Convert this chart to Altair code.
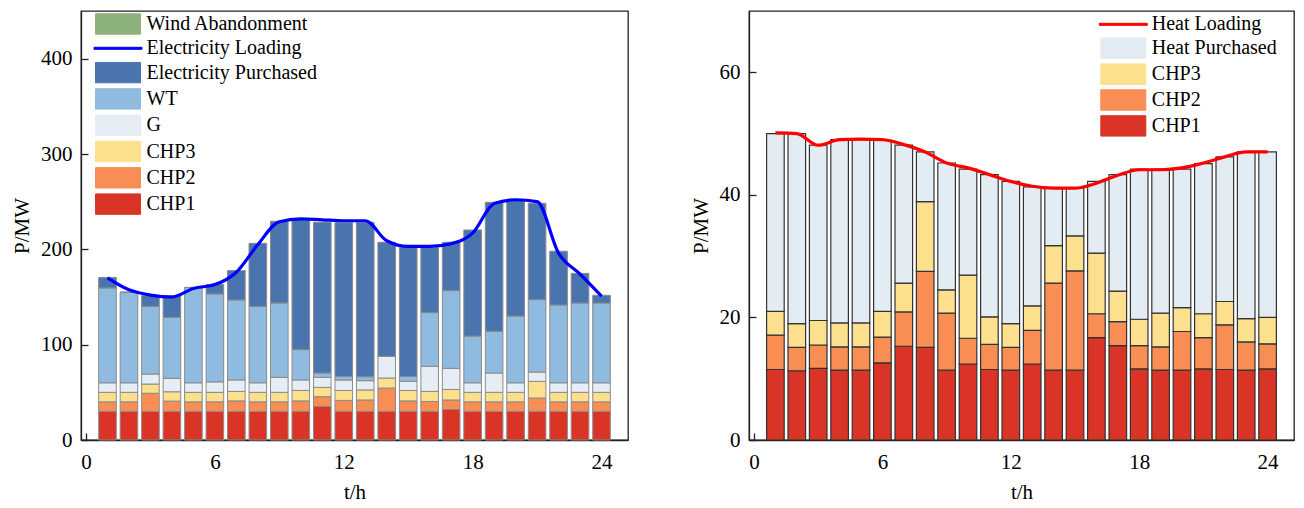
import altair as alt
import pandas as pd

hours = list(range(1, 25))

# ---------- Electricity balance (left) ----------
e_chp1 = [30, 30, 30, 30, 30, 30, 30, 30, 30, 30, 35.3, 30, 30, 30, 30, 30, 32, 30, 30, 30, 30, 30, 30, 30]
e_chp2 = [10, 10, 19, 10.8, 10, 10, 11, 10, 10, 11, 10.1, 11.5, 12, 24.5, 11, 10.4, 10, 10, 10, 10, 14, 10, 10, 10]
e_chp3 = [10, 10, 9.7, 9.8, 10, 10, 10, 10, 10, 11, 9.8, 10.5, 10.5, 10.5, 11, 10.6, 11, 10, 10, 10, 17.5, 10, 10, 10]
e_g = [10, 10, 10.5, 14.1, 10, 11, 12, 10, 15.7, 11, 10.5, 11, 9.7, 22.8, 9.6, 26.3, 22.2, 10, 20.3, 10, 9.8, 10, 10, 10]
e_wt = [99.5, 95, 71, 64, 100, 92.2, 83.9, 80.2, 78, 31.8, 4.6, 3.6, 4.2, 0, 5.2, 56.3, 81.5, 49, 43.7, 70, 75.9, 81.6, 83.7, 83.7]
e_buy = [11, 0, 11.2, 22.7, 0, 9.8, 30.8, 66.1, 85.7, 136.2, 158.1, 161.4, 161.9, 119.6, 135.2, 68.4, 50.7, 111.3, 135.3, 121.8, 101.1, 56.4, 31.1, 8.1]
e_load = [170, 157.5, 152, 150, 159, 163, 176, 205, 229, 232, 231, 230, 230, 209, 203, 203, 206, 217, 248, 252, 250, 196, 174, 151]

e_domain = ["Wind Abandonment", "Electricity Loading", "Electricity Purchased", "WT", "G", "CHP3", "CHP2", "CHP1"]
e_colors = ["#8db17b", "#0000ff", "#4a74ae", "#8fbbe0", "#e6edf4", "#fde08d", "#f98e55", "#d93425"]

# ---------- Heat balance (right) ----------
h_chp1 = [11.5, 11.3, 11.7, 11.4, 11.4, 12.6, 15.3, 15.1, 11.4, 12.4, 11.5, 11.4, 12.4, 11.4, 11.4, 16.7, 15.4, 11.6, 11.4, 11.4, 11.6, 11.5, 11.4, 11.6]
h_chp2 = [5.6, 3.8, 3.8, 3.8, 3.8, 4.2, 5.6, 12.4, 9.3, 4.2, 4.1, 3.7, 5.5, 14.2, 16.2, 3.9, 3.9, 3.8, 3.8, 6.3, 5.1, 7.3, 4.6, 4.1]
h_chp3 = [3.9, 3.9, 4.0, 3.9, 3.9, 4.2, 4.7, 11.4, 3.8, 10.3, 4.5, 3.9, 4.0, 6.1, 5.7, 9.9, 5.0, 4.3, 5.5, 3.9, 3.9, 3.8, 3.8, 4.3]
h_buy = [29.0, 31.0, 28.6, 29.9, 29.9, 27.9, 22.5, 8.1, 20.7, 17.3, 23.2, 23.2, 19.4, 9.4, 7.8, 11.7, 19.0, 24.5, 23.5, 22.6, 24.5, 23.6, 27.2, 27.0]
h_load = [50.1, 50.0, 48.1, 49.0, 49.1, 49.0, 48.2, 47.0, 45.2, 44.4, 43.3, 42.2, 41.4, 41.1, 41.1, 41.9, 43.2, 44.1, 44.1, 44.4, 45.2, 46.2, 47.0, 47.0]

h_domain = ["Heat Loading", "Heat Purchased", "CHP3", "CHP2", "CHP1"]
h_colors = ["#ff0000", "#e4ecf3", "#fde08d", "#f98e55", "#d93425"]

FONT = "Liberation Serif"


def long_frame(parts):
    rows = []
    for order, (name, vals) in enumerate(parts):
        for t, v in zip(hours, vals):
            rows.append({"t": t, "series": name, "value": v, "ord": order})
    return pd.DataFrame(rows)


e_bars = long_frame([("CHP1", e_chp1), ("CHP2", e_chp2), ("CHP3", e_chp3), ("G", e_g),
                     ("WT", e_wt), ("Electricity Purchased", e_buy)])
e_line = pd.DataFrame({"t": hours, "value": e_load, "series": "Electricity Loading"})

h_bars = long_frame([("CHP1", h_chp1), ("CHP2", h_chp2), ("CHP3", h_chp3), ("Heat Purchased", h_buy)])
h_line = pd.DataFrame({"t": hours, "value": h_load, "series": "Heat Loading"})

# legend symbols: size 400 -> unit = 10 px
RECT = "M-2.25,-1.02H2.25V1.02H-2.25Z"
LINE = "M-2.4,-0.1H2.4V0.1H-2.4Z"


def legend(line_name, line_color, lx, ly, row_pad, edge):
    test = f"datum.value === '{line_name}'"
    return alt.Legend(
        title=None,
        orient="none",
        legendX=lx,
        legendY=ly,
        padding=0,
        symbolSize=400,
        symbolStrokeWidth=1,
        symbolOpacity=1,
        symbolType=alt.ExprRef(expr=f"{test} ? '{LINE}' : '{RECT}'"),
        symbolStrokeColor=alt.ExprRef(expr=f"{test} ? '{line_color}' : '{edge}'"),
        rowPadding=row_pad,
        labelOffset=18,
        labelFont=FONT,
        labelFontSize=20,
        labelColor="black",
        labelLimit=400,
    )


def axis_x():
    return alt.Axis(values=[0, 6, 12, 18, 24], title="t/h", grid=False,
                    tickSize=alt.ExprRef(expr="-7"), labelPadding=18, titlePadding=9,
                    labelAngle=0)


def axis_y(vals):
    return alt.Axis(values=vals, title="P/MW", grid=False,
                    tickSize=alt.ExprRef(expr="-7"), labelPadding=16, titlePadding=8)


W, H = 547, 429

e_color = alt.Color("series:N", scale=alt.Scale(domain=e_domain, range=e_colors),
                    legend=legend("Electricity Loading", "#0000ff", 26.5, 2.5, 1.3, "#8a8a8a"))

left_bars = alt.Chart(e_bars).mark_bar(width=17.6, stroke="#8a8a8a", strokeWidth=1).encode(
    x=alt.X("t:Q", scale=alt.Scale(domain=[0, 25], nice=False), axis=axis_x()),
    y=alt.Y("value:Q", stack="zero", scale=alt.Scale(domain=[0, 450], nice=False), axis=axis_y([0, 100, 200, 300, 400])),
    color=e_color,
    order=alt.Order("ord:Q"),
)
left_line = alt.Chart(e_line).mark_line(strokeWidth=3.2, interpolate="monotone").encode(
    x="t:Q", y="value:Q", color=e_color,
)
left = alt.layer(left_bars, left_line).properties(width=W, height=H)

h_color = alt.Color("series:N", scale=alt.Scale(domain=h_domain, range=h_colors),
                    legend=legend("Heat Loading", "#ff0000", 363.8, 2.8, 0.9, "#333333"))

right_bars = alt.Chart(h_bars).mark_bar(width=17.6, stroke="#333333", strokeWidth=1.2).encode(
    x=alt.X("t:Q", scale=alt.Scale(domain=[0, 25], nice=False), axis=axis_x()),
    y=alt.Y("value:Q", stack="zero", scale=alt.Scale(domain=[0, 70], nice=False), axis=axis_y([0, 20, 40, 60])),
    color=h_color,
    order=alt.Order("ord:Q"),
)
right_line = alt.Chart(h_line).mark_line(strokeWidth=3.2, interpolate="monotone").encode(
    x="t:Q", y="value:Q", color=h_color,
)
right = alt.layer(right_bars, right_line).properties(width=545, height=H)

chart = alt.hconcat(left, right, spacing=60).resolve_scale(color="independent").resolve_legend(
    color="independent"
).properties(
    padding={"left": 10, "top": 10, "right": 5, "bottom": 5}
).configure(
    background="white"
).configure_view(
    stroke="#222222", strokeWidth=1.3
).configure_axis(
    labelFont=FONT, titleFont=FONT, labelFontSize=21, titleFontSize=21,
    labelColor="black", titleColor="black", titleFontWeight="normal",
    domainColor="#222222", domainWidth=1.3, tickColor="#222222", tickWidth=1.3,
)

chart.save("out.html", embed_options={"renderer": "svg", "actions": False})
